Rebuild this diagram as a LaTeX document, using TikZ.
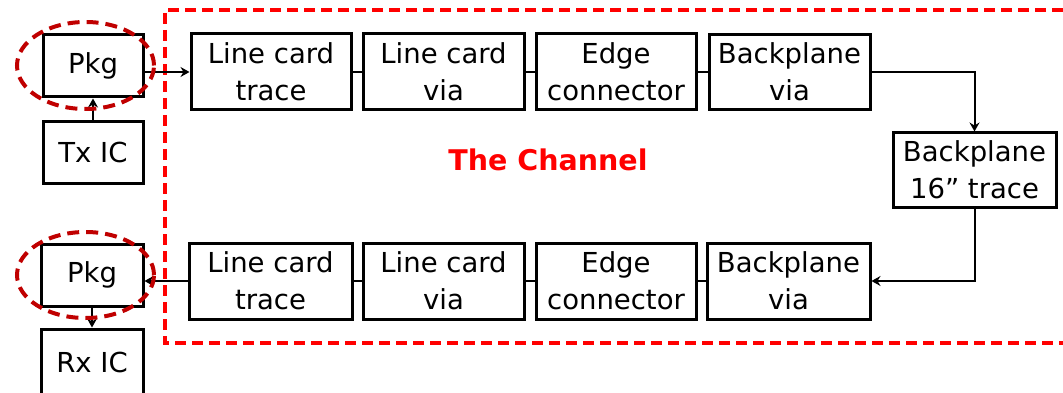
\documentclass[tikz,border=0pt]{standalone}
\usepackage{fontspec}
\setmainfont{DejaVu Sans}
\usetikzlibrary{arrows.meta}
\definecolor{chanred}{HTML}{FF0000}
\definecolor{pkgred}{HTML}{C00000}
\tikzset{
  blk/.style={draw=black, line width=3pt, fill=white, align=center, inner sep=0pt,
    font=\fontsize{27.5}{37}\selectfont},
  wire/.style={draw=black, line width=2pt},
  arr/.style={wire, -{Stealth[length=9pt, width=10pt, inset=3pt]}},
  chanbox/.style={draw=chanred, line width=4pt, dash pattern=on 11pt off 6pt},
  pkgring/.style={draw=pkgred, line width=4pt, dash pattern=on 12pt off 7pt}
}
\begin{document}
\begin{tikzpicture}[x=1pt, y=-1pt]
  \useasboundingbox (0,0) rectangle (1063,393);
  \clip (0,0) rectangle (1063,393);

  % channel boundary
  \draw[chanbox] (1080,10) -- (165,10) -- (165,343) -- (1080,343);
  \node[text=chanred, font=\fontsize{28.5}{34}\selectfont\bfseries] (title) at (548,160) {The Channel};

  % transmit side
  \node[blk, minimum width=100pt, minimum height=62pt] (pkgA) at (93,66) {Pkg};
  \node[blk, minimum width=100pt, minimum height=61pt] (tx) at (93,152.5) {Tx IC};

  % upper chain
  \node[blk, minimum width=160pt, minimum height=76pt] (ltA) at (271,72) {Line card\\trace};
  \node[blk, minimum width=161pt, minimum height=76pt] (lvA) at (443.5,72) {Line card\\via};
  \node[blk, minimum width=160pt, minimum height=76pt] (ecA) at (616,72) {Edge\\connector};
  \node[blk, minimum width=161pt, minimum height=75pt] (bvA) at (789.5,72) {Backplane\\via};

  % backplane trace
  \node[blk, minimum width=163pt, minimum height=74pt] (bpt) at (974.5,170) {Backplane\\16” trace};

  % lower chain
  \node[blk, minimum width=163pt, minimum height=76pt] (bvB) at (788.5,281) {Backplane\\via};
  \node[blk, minimum width=160pt, minimum height=76pt] (ecB) at (616,281) {Edge\\connector};
  \node[blk, minimum width=161pt, minimum height=76pt] (lvB) at (443.5,281) {Line card\\via};
  \node[blk, minimum width=163pt, minimum height=76pt] (ltB) at (270.5,281) {Line card\\trace};

  % receive side
  \node[blk, minimum width=102pt, minimum height=62pt] (pkgB) at (92,275) {Pkg};
  \node[blk, minimum width=102pt, minimum height=66pt] (rx) at (92,362) {Rx IC};

  % connectors
  \draw[arr] (tx.north) -- (pkgA.south);
  \draw[arr] (pkgA.east |- ltA.west) -- (ltA.west);
  \draw[wire] (ltA) -- (lvA);
  \draw[wire] (lvA) -- (ecA);
  \draw[wire] (ecA) -- (bvA);
  \draw[arr] (bvA.east) -| (bpt.north);
  \draw[arr] (bpt.south) |- (bvB.east);
  \draw[wire] (bvB) -- (ecB);
  \draw[wire] (ecB) -- (lvB);
  \draw[wire] (lvB) -- (ltB);
  \draw[arr] (ltB.west) -- (pkgB.east |- ltB.west);
  \draw[arr] (pkgB.south) -- (rx.north);

  % package outlines
  \draw[pkgring] (85.5,65.5) ellipse [x radius=68.5pt, y radius=43.5pt];
  \draw[pkgring] (85.5,275) ellipse [x radius=68.5pt, y radius=43pt];
\end{tikzpicture}
\end{document}
